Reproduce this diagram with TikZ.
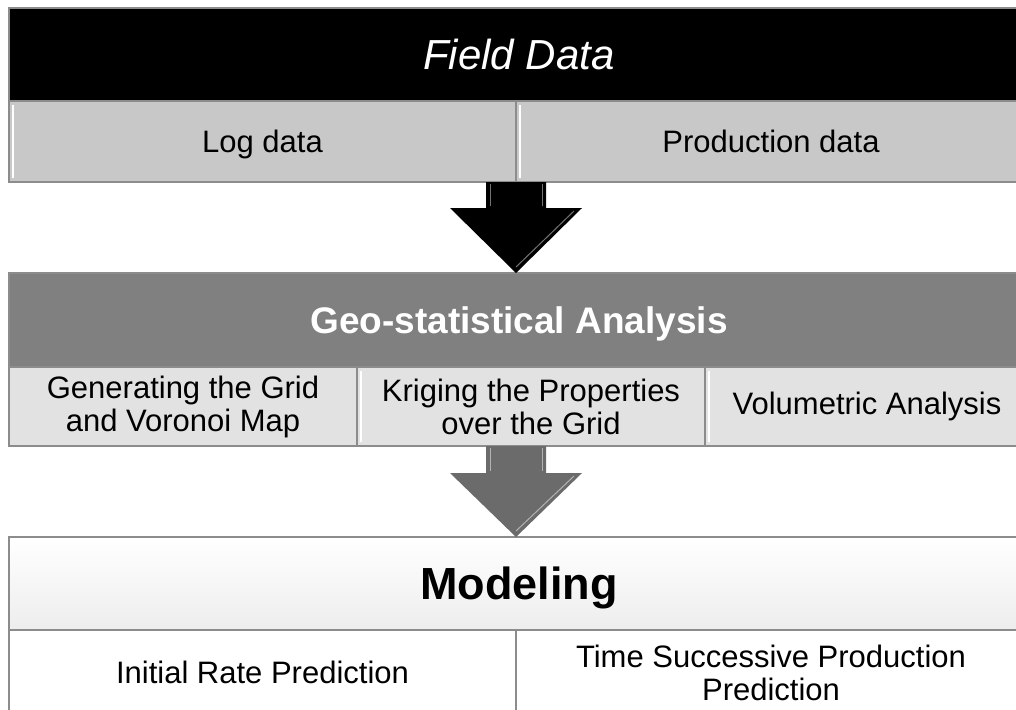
\documentclass[tikz,border=0pt]{standalone}
\usepackage{fontspec}
\setmainfont{Liberation Sans}
\usetikzlibrary{calc,positioning}
\definecolor{fieldrow}{HTML}{C8C8C8}
\definecolor{geohead}{HTML}{808080}
\definecolor{georow}{HTML}{E2E2E2}
\definecolor{geoarrow}{HTML}{6B6B6B}
\definecolor{edgegray}{HTML}{8C8C8C}
\newcommand{\nodepth}[1]{\raisebox{0pt}[\height][0pt]{#1}}

\begin{document}
\begin{tikzpicture}[x=1pt,y=-1pt,
  band/.style={rectangle,draw=edgegray,line width=1.2pt,inner sep=0pt,outer sep=0pt,
    anchor=north west,align=center},
  head/.style={band,minimum height=93pt},
  cell/.style={band,font=\fontsize{31}{33}\selectfont},
  bevel/.style={draw=white,line width=1.5pt}]
  \useasboundingbox (0,0) rectangle (1016,709);
  \clip (0,0) rectangle (1016,709);
  % field data block
  \node[head,fill=black,text=white,minimum width=1020pt,
    font=\fontsize{42}{46}\selectfont\itshape] (field) at (9,8) {Field Data};
  \node[cell,fill=fieldrow,minimum width=507pt,minimum height=81pt] (log) at (field.south west) {\nodepth{Log data}};
  \node[cell,fill=fieldrow,minimum width=510pt,minimum height=81pt] (prod) at (log.north east) {Production data};
  \draw[bevel] ($(log.north west)+(4,4)$) -- ($(log.south west)+(4,-4)$);
  \draw[bevel] ($(prod.north west)+(4,4)$) -- ($(prod.south west)+(4,-4)$);
  % geo-statistical block
  \node[head,fill=geohead,text=white,minimum width=1020pt,minimum height=94pt,
    font=\fontsize{37}{40}\selectfont\bfseries] (geo) at (9,273) {\nodepth{Geo-statistical Analysis}};
  \node[cell,fill=georow,minimum width=348pt,minimum height=79pt] (grid) at (geo.south west)
    {Generating the Grid\\and Voronoi Map};
  \node[cell,fill=georow,minimum width=348pt,minimum height=79pt] (krig) at (grid.north east)
    {Kriging the Properties\\over the Grid};
  \node[cell,fill=georow,minimum width=324pt,minimum height=79pt] (vol) at (krig.north east)
    {Volumetric Analysis};
  \draw[bevel] ($(krig.north west)+(4,4)$) -- ($(krig.south west)+(4,-4)$);
  \draw[bevel] ($(vol.north west)+(4,4)$) -- ($(vol.south west)+(4,-4)$);
  % modeling block
  \node[head,top color=white,bottom color=black!7,minimum width=1020pt,
    font=\fontsize{45}{48}\selectfont\bfseries] (model) at (9,537) {\nodepth{Modeling}};
  \node[cell,fill=white,minimum width=507pt,minimum height=85pt] (rate) at (model.south west)
    {Initial Rate Prediction};
  \node[cell,fill=white,minimum width=510pt,minimum height=85pt] (succ) at (rate.north east)
    {Time Successive Production\\Prediction};
  % block arrows
  \coordinate (a1) at (log.south east);
  \coordinate (t1) at (log.south east |- geo.north);
  \fill[black] ($(a1)+(-30,0)$) -- ($(a1)+(-30,26)$) -- ($(a1)+(-66,26)$) -- (t1)
    -- ($(a1)+(66,26)$) -- ($(a1)+(30,26)$) -- ($(a1)+(30,0)$) -- cycle;
  \draw[black!55,line width=1pt] ($(a1)+(-26,2)$) -- ($(a1)+(-26,24)$);
  \draw[black!55,line width=1pt] ($(a1)+(26,2)$) -- ($(a1)+(26,24)$);
  \draw[black!55,line width=1pt] ($(t1)+(0,-6)$) -- ($(a1)+(58,29)$);
  \coordinate (a2) at (log.south east |- krig.south);
  \coordinate (t2) at (log.south east |- model.north);
  \fill[geoarrow] ($(a2)+(-30,0)$) -- ($(a2)+(-30,27)$) -- ($(a2)+(-66,27)$) -- (t2)
    -- ($(a2)+(66,27)$) -- ($(a2)+(30,27)$) -- ($(a2)+(30,0)$) -- cycle;
  \draw[black!30,line width=1pt] ($(a2)+(-26,2)$) -- ($(a2)+(-26,25)$);
  \draw[black!30,line width=1pt] ($(a2)+(26,2)$) -- ($(a2)+(26,25)$);
  \draw[black!30,line width=1pt] ($(t2)+(0,-6)$) -- ($(a2)+(58,30)$);
\end{tikzpicture}
\end{document}
